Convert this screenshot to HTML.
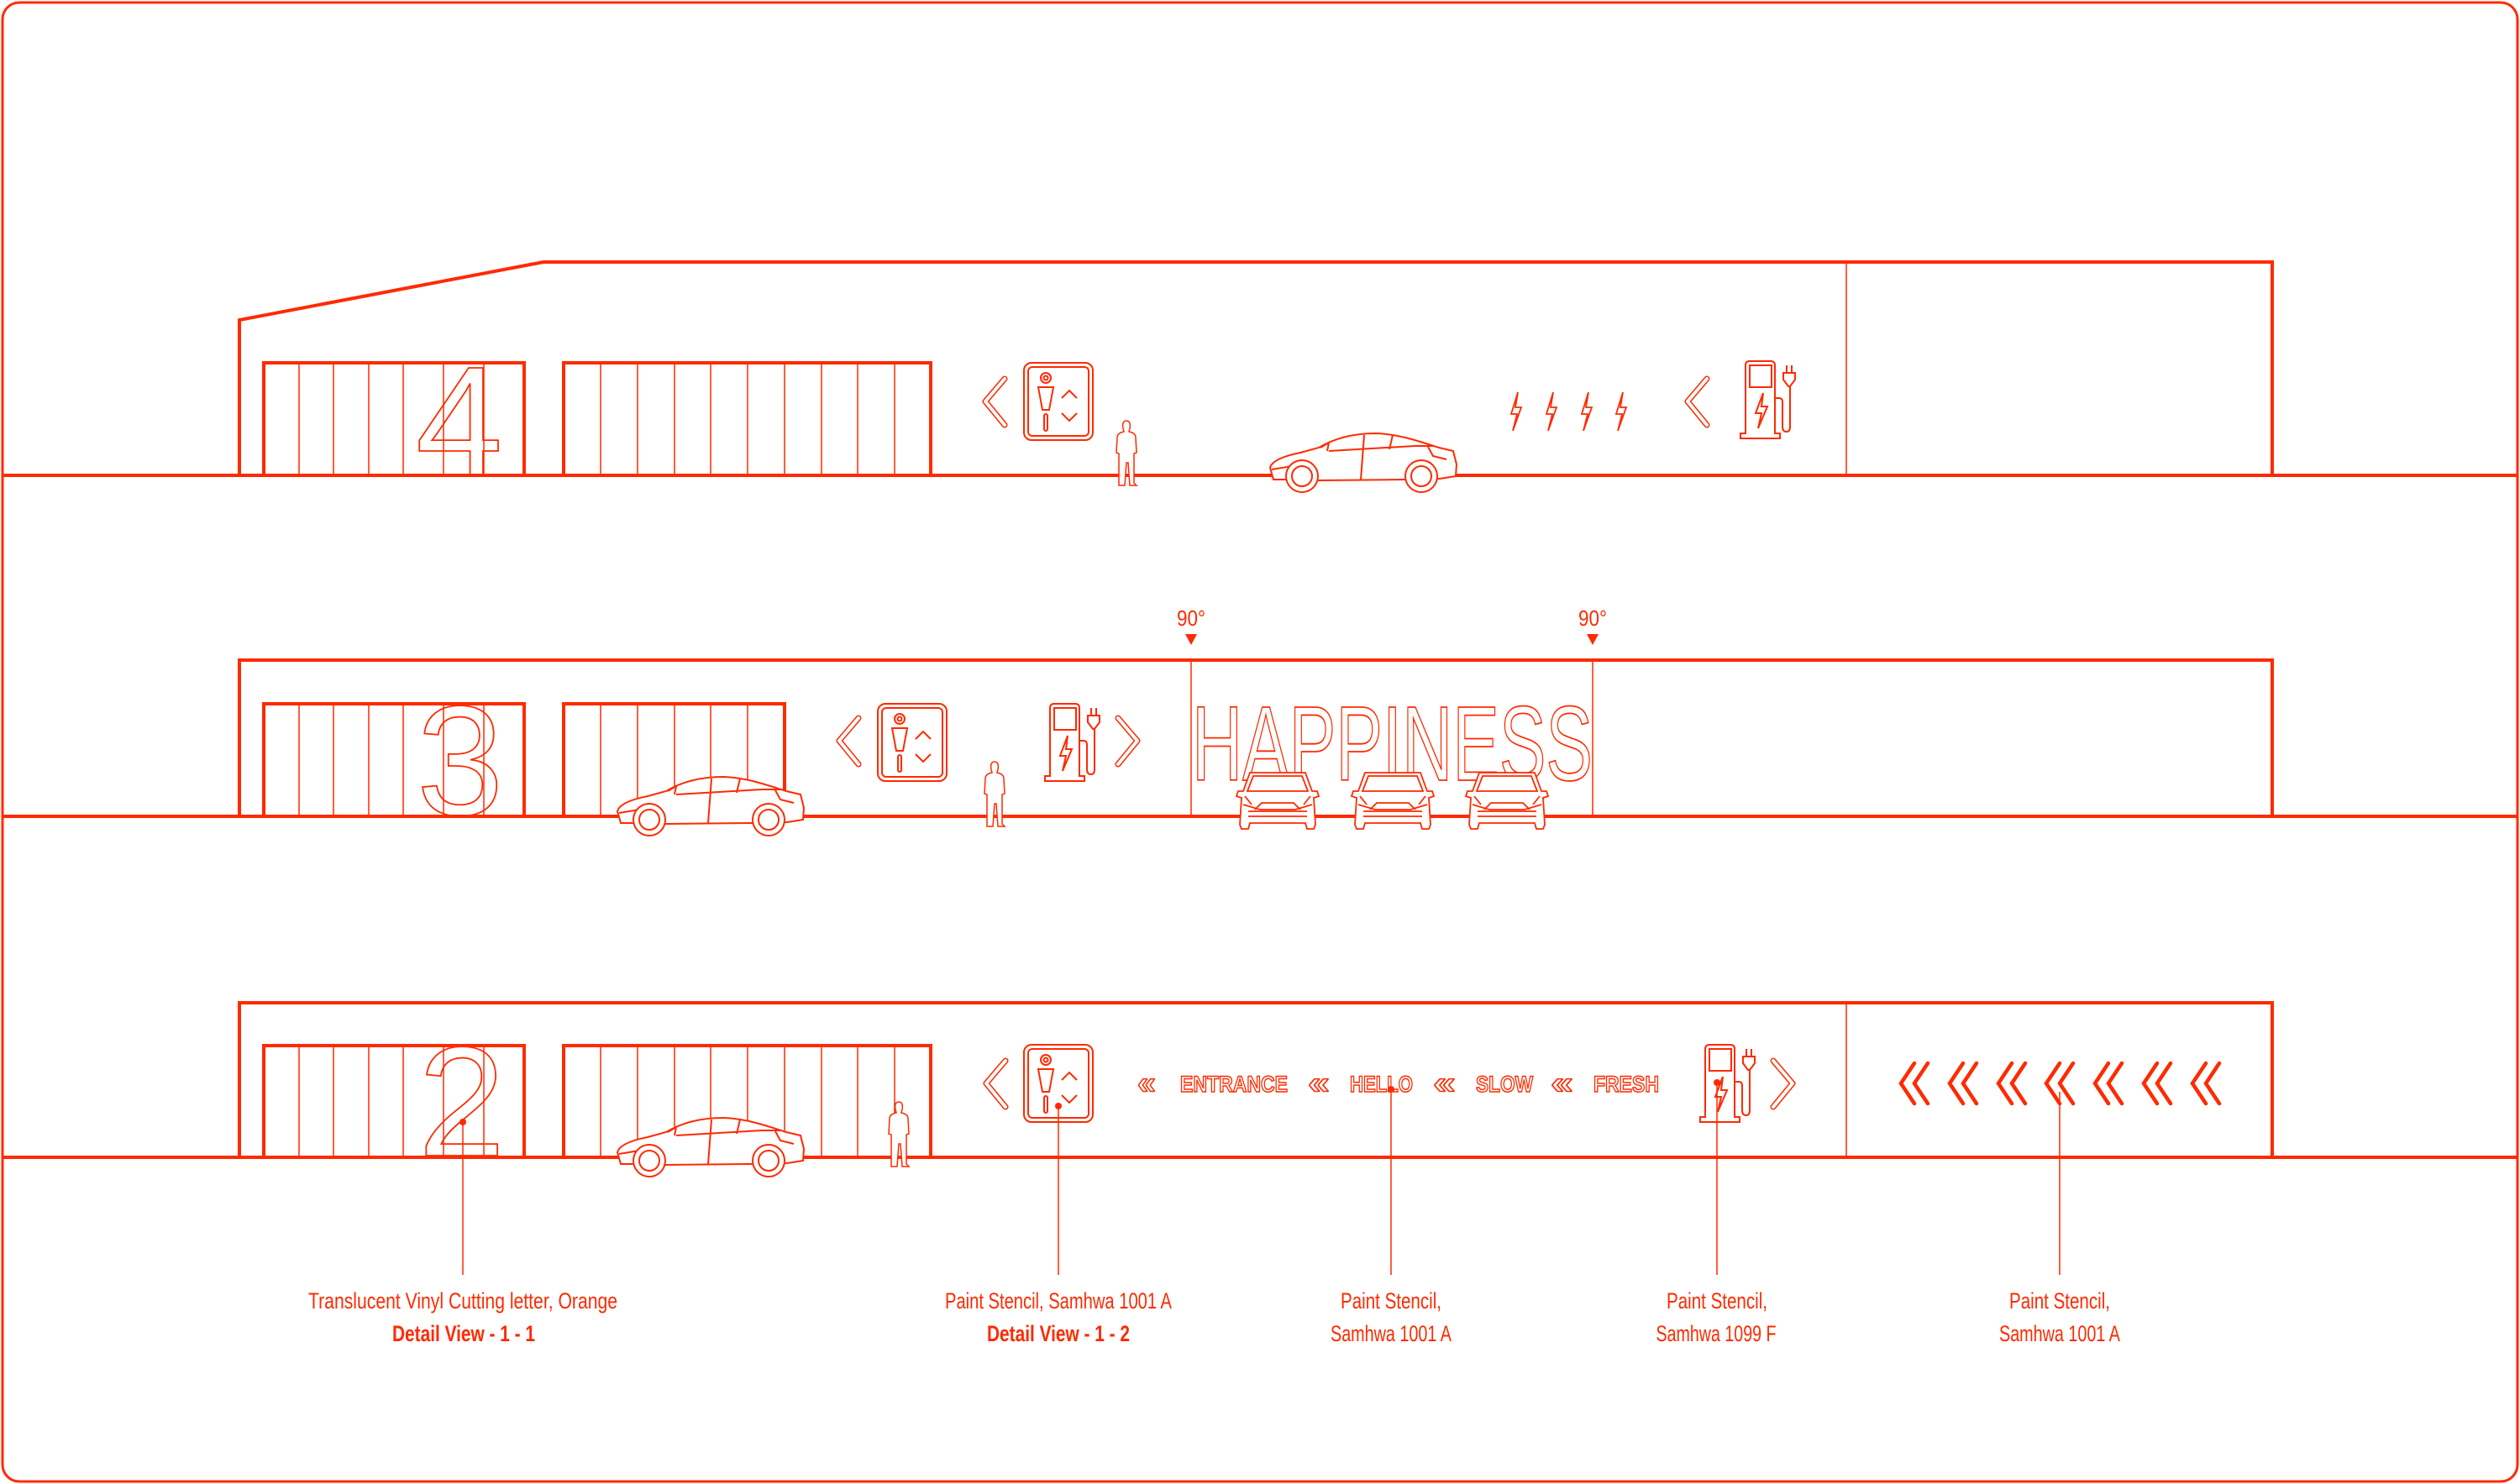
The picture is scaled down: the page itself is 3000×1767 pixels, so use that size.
<!DOCTYPE html>
<html><head><meta charset="utf-8"><style>
html,body{margin:0;padding:0;background:#fff}
svg{display:block}
text{font-family:"Liberation Sans Narrow","Liberation Sans",sans-serif}
</style></head><body>
<svg width="3000" height="1767" viewBox="0 0 3000 1767" xmlns="http://www.w3.org/2000/svg">
<defs>
<symbol id="elev" overflow="visible">
 <g fill="none" stroke="#ff2a00" stroke-width="2">
  <rect x="0" y="0" width="82" height="92" rx="9"/>
  <rect x="5" y="5" width="72" height="82" rx="5"/>
  <circle cx="26" cy="18" r="6"/><circle cx="26" cy="18" r="2.5"/>
  <path d="M17,29 L35,29 L30,56 L22,56 Z"/>
  <rect x="24" y="61" width="4" height="20" rx="2"/>
  <path d="M45,42 L54,33 L63,42"/><path d="M45,60 L54,69 L63,60"/>
 </g>
</symbol>
<symbol id="charger" overflow="visible">
 <g fill="none" stroke="#ff2a00" stroke-width="2">
  <path d="M0,92 L0,86 L6,86 L6,5 Q6,0 11,0 L36,0 Q41,0 41,5 L41,86 L47,86 L47,92 Z"/>
  <rect x="11" y="5" width="26" height="26"/>
  <path d="M27,38 L18,62 L25,62 L21,80 L32,54 L25,54 Z"/>
  <path d="M41,44 L46,44 Q50,44 50,49 L50,78 Q50,84 55,84 Q59,84 59,78 L59,30"/>
  <path d="M51,14 L65,14 L65,22 L59,30 L57,30 L51,22 Z"/>
  <path d="M55,14 L55,5 M61,14 L61,5"/>
 </g>
</symbol>
<symbol id="person" overflow="visible">
 <path fill="#fff" stroke="#ff2a00" stroke-width="1.5" d="M12,0 C16,0 17,4 16,9 L15,13 C20,14 23,16 23,20 L24,38 L21,39 L21,74 L24,77 L16,77 L14,50 L12,50 L10,77 L3,77 L3,39 L0,38 L1,20 C1,16 4,14 9,13 L8,9 C7,4 8,0 12,0 Z"/>
</symbol>
<symbol id="carside" overflow="visible">
 <g fill="#fff" stroke="#ff2a00" stroke-width="2">
  <path d="M8,58 L4,44 C6,36 20,30 40,26 L62,20 C82,8 104,3 130,3 C158,4 180,12 205,20 L222,24 L226,40 L225,54 L206,57 L164,58 L62,59 L24,58 Z"/>
  <path fill="none" d="M64,20 L74,14 L72,24 M74,24 L176,18 L200,18 M116,5 L112,58 M150,5 L146,22 M192,19 L198,30 L214,34 M6,46 L30,42"/>
  <circle cx="42" cy="54" r="19"/><circle cx="42" cy="54" r="12"/>
  <circle cx="184" cy="54" r="19"/><circle cx="184" cy="54" r="12"/>
 </g>
</symbol>
<symbol id="carfront" overflow="visible">
 <g fill="#fff" stroke="#ff2a00" stroke-width="1.8">
  <path d="M18,2 L84,2 L92,24 L98,24 L100,30 L94,32 L96,64 L94,69 L86,69 L84,62 L18,62 L16,69 L8,69 L6,64 L8,32 L2,30 L4,24 L10,24 Z"/>
  <path fill="none" d="M22,6 L80,6 L87,24 L15,24 Z M10,40 L30,46 L72,46 L92,40 M24,46 L32,38 L70,38 L78,46 M16,48 L86,48 M16,54 L86,54 M12,30 L20,40 M90,30 L82,40"/>
 </g>
</symbol>
<symbol id="chev" overflow="visible">
 <path d="M27,3 L4,30 L27,58" fill="none" stroke="#ff2a00" stroke-width="7" stroke-linecap="round" stroke-linejoin="round"/>
 <path d="M27,3 L4,30 L27,58" fill="none" stroke="#fff" stroke-width="4" stroke-linecap="round" stroke-linejoin="round"/>
</symbol>
<symbol id="bolt" overflow="visible">
 <path d="M10,0 L2,26 L9,26 L4,46 L14,18 L7,18 Z" fill="none" stroke="#ff2a00" stroke-width="1.8"/>
</symbol>
<symbol id="dch" overflow="visible">
 <path d="M16,0 L0,24 L16,48 M32,0 L16,24 L32,48" fill="none" stroke="#ff2a00" stroke-width="4.5" stroke-linecap="round"/>
</symbol>
</defs>

<rect x="3" y="3" width="2994" height="1761" rx="20" fill="none" stroke="#ff2a00" stroke-width="3"/>

<g stroke="#ff2a00" fill="none">
 <path d="M285,566 L285,381 L647,312 L2705,312 L2705,566" stroke-width="4"/>
 <line x1="2198" y1="312" x2="2198" y2="566" stroke-width="1.5"/>
 <path d="M285,972 L285,786 L2705,786 L2705,972" stroke-width="4"/>
 <line x1="1418" y1="786" x2="1418" y2="972" stroke-width="1.5"/>
 <line x1="1896" y1="786" x2="1896" y2="972" stroke-width="1.5"/>
 <path d="M285,1378 L285,1194 L2705,1194 L2705,1378" stroke-width="4"/>
 <line x1="2198" y1="1194" x2="2198" y2="1378" stroke-width="1.5"/>
</g>

<g stroke="#ff2a00" fill="none">
 <path d="M314,566 L314,432 L624,432 L624,566" stroke-width="4"/>
 <path d="M356,432V566M397,432V566M439,432V566M480,432V566M528,432V566M576,432V566" stroke-width="1.5"/>
 <path d="M671,566 L671,432 L1108,432 L1108,566" stroke-width="4"/>
 <path d="M715,432V566M759,432V566M803,432V566M846,432V566M890,432V566M934,432V566M978,432V566M1021,432V566M1065,432V566" stroke-width="1.5"/>
 <path d="M314,972 L314,838 L624,838 L624,972" stroke-width="4"/>
 <path d="M356,838V972M397,838V972M439,838V972M480,838V972M528,838V972M576,838V972" stroke-width="1.5"/>
 <path d="M671,972 L671,838 L934,838 L934,972" stroke-width="4"/>
 <path d="M715,838V972M759,838V972M803,838V972M846,838V972M890,838V972" stroke-width="1.5"/>
 <path d="M314,1378 L314,1245 L624,1245 L624,1378" stroke-width="4"/>
 <path d="M356,1245V1378M397,1245V1378M439,1245V1378M480,1245V1378M528,1245V1378M576,1245V1378" stroke-width="1.5"/>
 <path d="M671,1378 L671,1245 L1108,1245 L1108,1378" stroke-width="4"/>
 <path d="M715,1245V1378M759,1245V1378M803,1245V1378M846,1245V1378M890,1245V1378M934,1245V1378M978,1245V1378M1021,1245V1378M1065,1245V1378" stroke-width="1.5"/>
</g>

<g font-size="186" fill="none" stroke="#ff2a00" stroke-width="1.8">
 <text x="495" y="566">4</text>
 <text x="496" y="970">3</text>
 <text x="498" y="1376">2</text>
</g>

<g stroke="#ff2a00" stroke-width="4">
 <line x1="3" y1="566" x2="2997" y2="566"/>
 <line x1="3" y1="972" x2="2997" y2="972"/>
 <line x1="3" y1="1378" x2="2997" y2="1378"/>
</g>

<use href="#chev" x="1169" y="448"/>
<use href="#elev" x="1219" y="432"/>
<use href="#person" x="1329" y="501"/>
<use href="#carside" x="1508" y="513"/>
<use href="#bolt" x="1797" y="467"/>
<use href="#bolt" x="1839" y="467"/>
<use href="#bolt" x="1881" y="467"/>
<use href="#bolt" x="1922" y="467"/>
<use href="#chev" x="2005" y="448"/>
<use href="#charger" x="2072" y="430"/>

<use href="#chev" x="995" y="852"/>
<use href="#elev" x="1045" y="838"/>
<use href="#charger" x="1244" y="838"/>
<use href="#chev" transform="translate(1358,852) scale(-1,1)"/>
<use href="#person" x="1172" y="907"/>
<use href="#carside" x="731" y="922"/>

<g fill="#ff2a00" font-size="26">
 <text x="1418" y="745" text-anchor="middle" textLength="34" lengthAdjust="spacingAndGlyphs">90°</text>
 <text x="1896" y="745" text-anchor="middle" textLength="34" lengthAdjust="spacingAndGlyphs">90°</text>
 <path d="M1411,755 L1425,755 L1418,768 Z"/>
 <path d="M1889,755 L1903,755 L1896,768 Z"/>
</g>
<text x="1419" y="929" font-size="126" fill="#fff" stroke="#ff2a00" stroke-width="1.8" textLength="477" lengthAdjust="spacingAndGlyphs">HAPPINESS</text>
<use href="#carfront" x="1470" y="918"/>
<use href="#carfront" x="1607" y="918"/>
<use href="#carfront" x="1743" y="918"/>

<use href="#chev" x="1170" y="1260"/>
<use href="#elev" x="1219" y="1244"/>
<use href="#person" x="1058" y="1312"/>
<use href="#carside" x="731" y="1328"/>
<use href="#charger" x="2024" y="1244"/>
<use href="#chev" transform="translate(2138,1260) scale(-1,1)"/>
<g font-size="27" font-weight="bold" fill="#fff" stroke="#ff2a00" stroke-width="1.5">
 <text x="1354" y="1302" font-size="38" textLength="22" lengthAdjust="spacingAndGlyphs">«</text>
 <text x="1405" y="1300" textLength="128" lengthAdjust="spacingAndGlyphs">ENTRANCE</text>
 <text x="1557" y="1302" font-size="38" textLength="26" lengthAdjust="spacingAndGlyphs">«</text>
 <text x="1607" y="1300" textLength="75" lengthAdjust="spacingAndGlyphs">HELLO</text>
 <text x="1706" y="1302" font-size="38" textLength="27" lengthAdjust="spacingAndGlyphs">«</text>
 <text x="1757" y="1300" textLength="68" lengthAdjust="spacingAndGlyphs">SLOW</text>
 <text x="1846" y="1302" font-size="38" textLength="27" lengthAdjust="spacingAndGlyphs">«</text>
 <text x="1897" y="1300" textLength="78" lengthAdjust="spacingAndGlyphs">FRESH</text>
</g>
<use href="#dch" x="2263" y="1266"/>
<use href="#dch" x="2321" y="1266"/>
<use href="#dch" x="2379" y="1266"/>
<use href="#dch" x="2436" y="1266"/>
<use href="#dch" x="2494" y="1266"/>
<use href="#dch" x="2552" y="1266"/>
<use href="#dch" x="2610" y="1266"/>

<g stroke="#ff2a00" stroke-width="1.5">
 <line x1="551" y1="1336" x2="551" y2="1518"/>
 <line x1="1260" y1="1317" x2="1260" y2="1518"/>
 <line x1="1656" y1="1297" x2="1656" y2="1518"/>
 <line x1="2044" y1="1289" x2="2044" y2="1518"/>
 <line x1="2452" y1="1300" x2="2452" y2="1518"/>
</g>
<g fill="#ff2a00">
 <circle cx="551" cy="1336" r="4"/>
 <circle cx="1260" cy="1317" r="4"/>
 <circle cx="1656" cy="1297" r="4"/>
 <circle cx="2044" cy="1289" r="4"/>
</g>

<g fill="#ff2a00" font-size="27" text-anchor="middle">
 <text x="551" y="1558" textLength="368" lengthAdjust="spacingAndGlyphs">Translucent Vinyl Cutting letter, Orange</text>
 <text x="552" y="1597" font-weight="bold" textLength="170" lengthAdjust="spacingAndGlyphs">Detail View - 1 - 1</text>
 <text x="1260" y="1558" textLength="270" lengthAdjust="spacingAndGlyphs">Paint Stencil, Samhwa 1001 A</text>
 <text x="1260" y="1597" font-weight="bold" textLength="170" lengthAdjust="spacingAndGlyphs">Detail View - 1 - 2</text>
 <text x="1656" y="1558" textLength="120" lengthAdjust="spacingAndGlyphs">Paint Stencil,</text>
 <text x="1656" y="1597" textLength="144" lengthAdjust="spacingAndGlyphs">Samhwa 1001 A</text>
 <text x="2044" y="1558" textLength="120" lengthAdjust="spacingAndGlyphs">Paint Stencil,</text>
 <text x="2043" y="1597" textLength="143" lengthAdjust="spacingAndGlyphs">Samhwa 1099 F</text>
 <text x="2452" y="1558" textLength="120" lengthAdjust="spacingAndGlyphs">Paint Stencil,</text>
 <text x="2452" y="1597" textLength="144" lengthAdjust="spacingAndGlyphs">Samhwa 1001 A</text>
</g>
</svg>
</body></html>
